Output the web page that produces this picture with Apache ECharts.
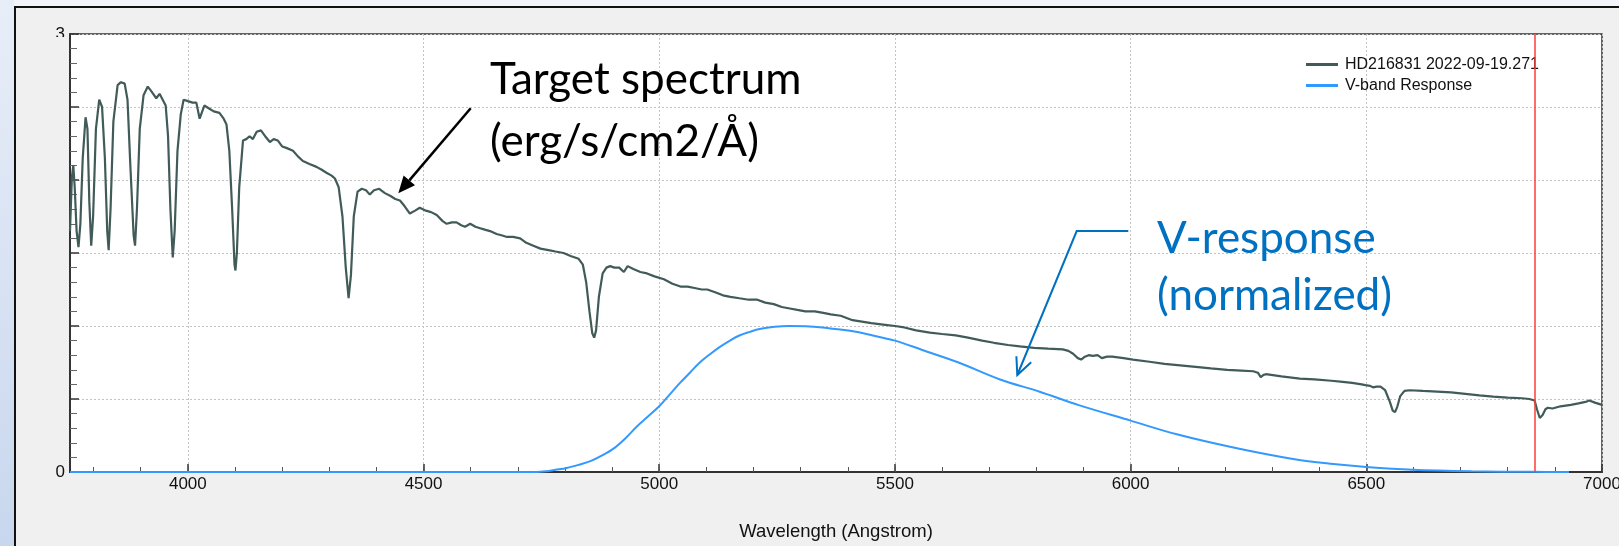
<!DOCTYPE html>
<html>
<head>
<meta charset="utf-8">
<script src="https://cdn.jsdelivr.net/npm/echarts@6/dist/echarts.min.js"></script>
<style>
html,body{margin:0;padding:0;background:#f0f0f0;overflow:hidden;}
#chart{width:1619px;height:546px;}
</style>
</head>
<body>
<div id="chart"></div>
<script>
// ---------- data ----------
const seriesNames = ['HD216831 2022-09-19.271', 'V-band Response'];

// Target spectrum: wavelength (Å)
const specWave = [
3750,3754,3757,3760,3764,3768,3772,3777,3783,3787,3791,3795,3799,3805,3812,3818,3824,3829,3832,3836,
3842,3851,3858,3866,3872,3878,3885,3888,3892,3898,3906,3915,3922,3933,3940,3953,3958,3963,3968,3972,
3978,3985,3991,4000,4010,4018,4025,4035,4045,4055,4067,4076,4082,4088,4094,4099,4101,4104,4109,4117,
4124,4131,4138,4146,4155,4164,4174,4182,4191,4200,4209,4223,4234,4244,4258,4273,4284,4294,4305,4312,
4320,4328,4335,4341,4346,4352,4360,4369,4378,4386,4395,4406,4418,4430,4440,4450,4460,4471,4482,4492,
4505,4516,4528,4540,4549,4560,4570,4580,4588,4599,4610,4620,4630,4641,4655,4667,4677,4690,4705,4718,
4733,4748,4765,4780,4797,4812,4829,4838,4845,4852,4858,4862,4866,4872,4880,4888,4896,4905,4915,4925,
4933,4945,4960,4974,4990,5010,5028,5045,5060,5075,5090,5102,5120,5135,5151,5170,5190,5208,5225,5243,
5260,5277,5293,5310,5330,5348,5364,5385,5410,5430,5450,5475,5500,5520,5545,5574,5600,5629,5655,5685,
5710,5740,5765,5795,5825,5856,5868,5878,5888,5895,5903,5911,5920,5930,5939,5950,5961,5985,6005,6040,
6072,6105,6138,6170,6205,6235,6260,6270,6276,6282,6287,6320,6359,6390,6426,6450,6470,6490,6498,6508,
6514,6522,6530,6540,6550,6556,6561,6566,6572,6581,6592,6620,6650,6680,6710,6740,6769,6800,6830,6846,
6857,6862,6868,6874,6880,6885,6895,6912,6934,6950,6965,6973,6985,7000
];
// Target spectrum: flux (erg/s/cm2/Å, scaled as on the axis)
const specFlux = [
1.65,2.02,2.10,1.95,1.65,1.54,1.70,2.15,2.43,2.35,1.85,1.55,1.75,2.35,2.55,2.50,2.15,1.65,1.52,1.80,
2.40,2.65,2.67,2.66,2.55,2.10,1.62,1.55,1.80,2.35,2.58,2.64,2.61,2.56,2.59,2.51,2.30,1.80,1.47,1.65,
2.20,2.45,2.55,2.54,2.53,2.53,2.42,2.51,2.49,2.47,2.46,2.42,2.38,2.20,1.80,1.42,1.38,1.50,1.95,2.27,
2.28,2.30,2.28,2.33,2.34,2.30,2.26,2.28,2.27,2.23,2.22,2.20,2.16,2.13,2.11,2.09,2.07,2.05,2.03,2.01,
1.95,1.75,1.40,1.19,1.35,1.75,1.92,1.94,1.93,1.90,1.93,1.94,1.91,1.89,1.87,1.86,1.82,1.77,1.79,1.81,
1.79,1.78,1.76,1.72,1.70,1.71,1.71,1.69,1.68,1.70,1.68,1.67,1.66,1.65,1.63,1.62,1.61,1.61,1.60,1.57,
1.55,1.53,1.52,1.51,1.50,1.48,1.46,1.42,1.30,1.10,0.95,0.92,0.97,1.20,1.36,1.40,1.41,1.40,1.40,1.37,
1.41,1.39,1.37,1.36,1.34,1.32,1.29,1.27,1.27,1.26,1.25,1.25,1.23,1.21,1.20,1.19,1.18,1.18,1.16,1.15,
1.13,1.12,1.11,1.10,1.10,1.09,1.08,1.07,1.04,1.03,1.02,1.01,1.00,0.99,0.97,0.955,0.945,0.936,0.92,0.90,
0.885,0.87,0.86,0.85,0.845,0.84,0.83,0.81,0.78,0.77,0.79,0.80,0.795,0.80,0.78,0.79,0.79,0.78,0.77,0.755,
0.74,0.73,0.72,0.71,0.70,0.695,0.69,0.68,0.65,0.665,0.67,0.655,0.64,0.635,0.625,0.617,0.61,0.60,0.595,0.59,
0.58,0.585,0.585,0.56,0.48,0.42,0.41,0.45,0.52,0.556,0.56,0.555,0.55,0.545,0.535,0.525,0.516,0.51,0.505,0.50,
0.49,0.43,0.37,0.39,0.43,0.44,0.435,0.45,0.46,0.47,0.48,0.49,0.475,0.46
];

// V-band response (normalized)
const vWave = [
3750,4740,4760,4780,4804,4830,4854,4880,4903,4928,4952,4976,5000,5022,5044,5065,5086,5107,5128,5150,
5170,5192,5213,5245,5276,5310,5346,5380,5417,5460,5500,5558,5635,5723,5807,5890,6000,6098,6223,6348,
6430,6500,6598,6723,6850,6930
];
const vResp = [
0,0,0.005,0.015,0.028,0.05,0.074,0.115,0.16,0.23,0.31,0.38,0.45,0.53,0.61,0.68,0.75,0.805,0.855,0.90,
0.935,0.96,0.98,0.995,1.0,0.998,0.99,0.977,0.96,0.93,0.90,0.836,0.75,0.634,0.55,0.458,0.352,0.258,0.164,0.087,
0.055,0.035,0.016,0.005,0.001,0
];

// reference marker (red vertical line)
const markerWave = 6857;

// axis tick labels
const xTickLabels = [4000, 4500, 5000, 5500, 6000, 6500, 7000];
const yTickLabels = [0, 3];

// ---------- chart ----------
const specData = specWave.map((w, i) => [w, specFlux[i]]);
const vData = vWave.map((w, i) => [w, vResp[i]]);
const minorX = [];
for (let w = 3800; w < 7000; w += 100) minorX.push(w);

const chart = echarts.init(document.getElementById('chart'), null, {renderer: 'canvas'});
const tickFont = {fontFamily: 'Liberation Sans', fontSize: 17, color: '#111'};

function arrowHead(x1, y1, x2, y2, len, half) {
  const dx = x2 - x1, dy = y2 - y1, L = Math.hypot(dx, dy);
  const ux = dx / L, uy = dy / L;
  const bx = x2 - ux * len, by = y2 - uy * len;
  return {base: [bx, by], p1: [bx - uy * half, by + ux * half], p2: [bx + uy * half, by - ux * half], tip: [x2, y2]};
}
const a1 = arrowHead(470.7, 108.3, 398.3, 193.3, 17, 7.5);
const a2 = arrowHead(1076.7, 231, 1017.3, 375, 17, 8);

const gridBox = {left: 70, right: 17, top: 34, bottom: 74, outerBoundsMode: 'none', containLabel: false};

chart.setOption({
  animation: false,
  backgroundColor: '#f0f0f0',
  grid: [
    Object.assign({show: true, backgroundColor: '#ffffff', borderColor: '#333', borderWidth: 1.5}, gridBox),
    Object.assign({show: false}, gridBox)
  ],
  legend: {
    data: seriesNames,
    orient: 'vertical',
    left: 1301, top: 49,
    icon: 'rect', itemWidth: 32, itemHeight: 3, itemGap: 0,
    textStyle: {fontFamily: 'Liberation Sans', fontSize: 16, color: '#111', lineHeight: 21, padding: [0, 0, 0, 2]}
  },
  xAxis: [{
    gridIndex: 0, type: 'value', min: 3750, max: 7000,
    name: 'Wavelength (Angstrom)', nameLocation: 'middle', nameGap: 50,
    nameTextStyle: {fontFamily: 'Liberation Sans', fontSize: 18.5, color: '#111'},
    axisLine: {show: true, onZero: false, lineStyle: {color: '#333', width: 2}},
    axisTick: {show: true, inside: true, length: 8, customValues: xTickLabels, lineStyle: {color: '#333', width: 1.5}},
    axisLabel: {show: true, margin: 4, customValues: xTickLabels, formatter: v => String(v), hideOverlap: false, ...tickFont},
    splitLine: {show: true, lineStyle: {color: '#c4c4c4', type: [2, 2], width: 1}},
    minorTick: {show: false}
  }, {
    gridIndex: 1, type: 'value', min: 3750, max: 7000, position: 'bottom',
    axisLine: {show: false},
    axisTick: {show: true, inside: true, length: 5, customValues: minorX, lineStyle: {color: '#555', width: 1}},
    axisLabel: {show: false},
    splitLine: {show: false}
  }],
  yAxis: [{
    gridIndex: 0, type: 'value', min: 0, max: 3, interval: 0.5,
    axisLine: {show: true, onZero: false, lineStyle: {color: '#333', width: 2}},
    axisTick: {show: true, inside: true, length: 9, lineStyle: {color: '#333', width: 1.5}},
    minorTick: {show: true, splitNumber: 5, length: 7, lineStyle: {color: '#666', width: 1}},
    axisLabel: {show: true, margin: 5, customValues: yTickLabels, formatter: v => String(v), ...tickFont},
    splitLine: {show: true, lineStyle: {color: '#c4c4c4', type: [2, 2], width: 1}}
  }, {
    gridIndex: 1, type: 'value', min: 0, max: 3, show: false
  }],
  series: [{
    name: seriesNames[0], type: 'line', data: specData, showSymbol: false,
    xAxisIndex: 0, yAxisIndex: 0, z: 3,
    lineStyle: {color: '#415b58', width: 2.2}, itemStyle: {color: '#415b58'}
  }, {
    name: seriesNames[1], type: 'line', data: vData, showSymbol: false, smooth: 0.35,
    xAxisIndex: 0, yAxisIndex: 0, z: 2,
    lineStyle: {color: '#3399ff', width: 2}, itemStyle: {color: '#3399ff'},
    markLine: {
      silent: true, symbol: 'none', label: {show: false},
      lineStyle: {color: '#ff3b3b', width: 1.5, type: 'solid'},
      data: [{xAxis: markerWave}]
    }
  }],
  graphic: [
    // slide strips outside the chart panel
    {type: 'rect', left: 0, top: 0, shape: {width: 1619, height: 7}, style: {fill: '#f2f4f9'}, z: 0, silent: true},
    {type: 'rect', left: 0, top: 0, shape: {width: 14, height: 546},
     style: {fill: new echarts.graphic.LinearGradient(0, 0, 0, 1, [{offset: 0, color: '#e8eef8'}, {offset: 1, color: '#c8d7ee'}])}, z: 0, silent: true},
    {type: 'line', shape: {x1: 14, y1: 7, x2: 1619, y2: 7}, style: {stroke: '#111', lineWidth: 2}, z: 0, silent: true},
    {type: 'line', shape: {x1: 15, y1: 7, x2: 15, y2: 546}, style: {stroke: '#111', lineWidth: 2}, z: 0, silent: true},
    // cover lower part of the clipped "3" label
    {type: 'rect', left: 48, top: 37, shape: {width: 20, height: 12}, style: {fill: '#f0f0f0'}, z: 100, silent: true},
    // annotation: target spectrum
    {type: 'text', left: 490, top: 58, z: 100, silent: true,
     style: {text: 'Target spectrum', font: '44px Lato', fill: '#000'}},
    {type: 'text', left: 490, top: 120, z: 100, silent: true,
     style: {text: '(erg/s/cm2/Å)', font: '44px Lato', fill: '#000'}},
    {type: 'line', shape: {x1: 470.7, y1: 108.3, x2: a1.base[0], y2: a1.base[1]}, style: {stroke: '#000', lineWidth: 2.5}, z: 100, silent: true},
    {type: 'polygon', shape: {points: [a1.tip, a1.p1, a1.p2]}, style: {fill: '#000'}, z: 100, silent: true},
    // annotation: V-response
    {type: 'text', left: 1157, top: 217, z: 100, silent: true,
     style: {text: 'V-response', font: '44px Lato', fill: '#0070c0'}},
    {type: 'text', left: 1157, top: 274, z: 100, silent: true,
     style: {text: '(normalized)', font: '44px Lato', fill: '#0070c0'}},
    {type: 'polyline', shape: {points: [[1128.3, 231], [1076.7, 231], [1017.3, 375]]}, style: {stroke: '#0070c0', lineWidth: 2, fill: null}, z: 100, silent: true},
    {type: 'polyline', shape: {points: [a2.p1, a2.tip, a2.p2]}, style: {stroke: '#0070c0', lineWidth: 2, fill: null}, z: 100, silent: true}
  ]
});
</script>
</body>
</html>
